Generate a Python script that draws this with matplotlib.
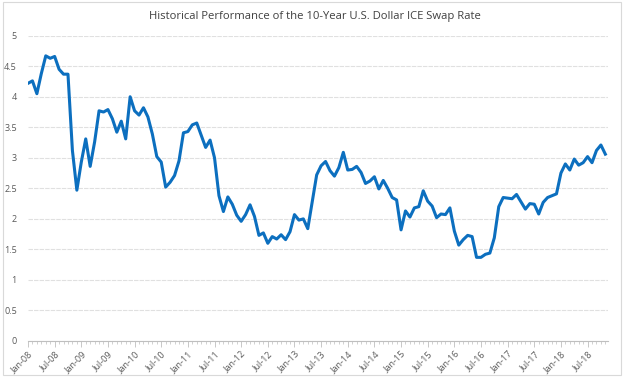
import matplotlib
matplotlib.use("Agg")
import matplotlib.pyplot as plt
from matplotlib.patches import Rectangle
from matplotlib.ticker import MultipleLocator, FixedLocator

start_year = 2008
months = ["Jan", "Feb", "Mar", "Apr", "May", "Jun", "Jul", "Aug", "Sep", "Oct", "Nov", "Dec"]

rates = [4.22, 4.26, 4.05, 4.38, 4.67, 4.63, 4.66, 4.45, 4.37, 4.37, 3.12, 2.47,
         2.93, 3.31, 2.86, 3.26, 3.77, 3.75, 3.79, 3.64, 3.42, 3.60, 3.31, 4.00,
         3.77, 3.70, 3.82, 3.67, 3.39, 3.02, 2.93, 2.52, 2.60, 2.71, 2.95, 3.41,
         3.43, 3.54, 3.57, 3.37, 3.17, 3.29, 3.00, 2.38, 2.12, 2.36, 2.24, 2.06,
         1.96, 2.07, 2.23, 2.04, 1.73, 1.77, 1.60, 1.71, 1.67, 1.74, 1.66, 1.79,
         2.07, 1.98, 2.00, 1.84, 2.28, 2.72, 2.87, 2.94, 2.79, 2.70, 2.84, 3.09,
         2.80, 2.81, 2.86, 2.76, 2.58, 2.62, 2.69, 2.49, 2.63, 2.50, 2.35, 2.31,
         1.82, 2.13, 2.03, 2.18, 2.20, 2.46, 2.29, 2.21, 2.02, 2.08, 2.07, 2.18,
         1.80, 1.57, 1.66, 1.73, 1.71, 1.37, 1.37, 1.42, 1.44, 1.69, 2.20, 2.35,
         2.34, 2.33, 2.40, 2.28, 2.16, 2.25, 2.24, 2.08, 2.27, 2.35, 2.38, 2.41,
         2.75, 2.90, 2.80, 2.98, 2.88, 2.92, 3.02, 2.92, 3.12, 3.21, 3.06]

title = "Historical Performance of the 10-Year U.S. Dollar ICE Swap Rate"
y_ticks = [0, 0.5, 1, 1.5, 2, 2.5, 3, 3.5, 4, 4.5, 5]
y_labels = ["0", "0.5", "1", "1.5", "2", "2.5", "3", "3.5", "4", "4.5", "5"]

n = len(rates)
x = list(range(n))
major_pos = list(range(0, n, 6))
major_labels = [f"{months[i % 12]}-{(start_year + i // 12) % 100:02d}" for i in major_pos]

W, H = 628, 378
fig = plt.figure(figsize=(W / 100, H / 100), dpi=100)
plt.rcParams['font.family'] = ['Open Sans', 'DejaVu Sans']

# chart border
fig.patches.append(Rectangle((3 / W, 1 - 375 / H), 618 / W, 373 / H,
                             transform=fig.transFigure, fill=False,
                             edgecolor="#D9D9D9", linewidth=0.8))

left, right = 28 / W, 608 / W
bottom, top = 1 - 341 / H, 1 - 35.7 / H
ax = fig.add_axes([left, bottom, right - left, top - bottom])

ax.plot(x, rates, color="#0C6FBF", linewidth=2.2, solid_joinstyle="round")

ax.set_xlim(0, 130.6)
ax.set_ylim(0, 5)
ax.set_yticks(y_ticks)
ax.set_yticklabels(y_labels)
ax.yaxis.grid(True, color="#E0E0E0", linewidth=0.8, linestyle=(0, (4, 1)))
ax.set_axisbelow(True)
ax.tick_params(axis="y", length=0, pad=8, labelsize=6.5, labelcolor="#595959")

ax.xaxis.set_major_locator(FixedLocator(major_pos))
ax.set_xticklabels(major_labels, rotation=45, ha="right", rotation_mode="anchor")
ax.xaxis.set_minor_locator(MultipleLocator(1))
ax.tick_params(axis="x", which="major", length=4, width=0.6, color="#BFBFBF",
               labelsize=6.5, labelcolor="#595959", pad=2)
ax.tick_params(axis="x", which="minor", length=2, width=0.5, color="#BFBFBF")

for s in ["top", "right", "left"]:
    ax.spines[s].set_visible(False)
ax.spines["bottom"].set_color("#BFBFBF")
ax.spines["bottom"].set_linewidth(0.8)

fig.text(315 / W, 1 - 16 / H, title, ha="center", va="center",
         fontsize=8.1, color="#404040")

fig.savefig("out.png", dpi=100)
